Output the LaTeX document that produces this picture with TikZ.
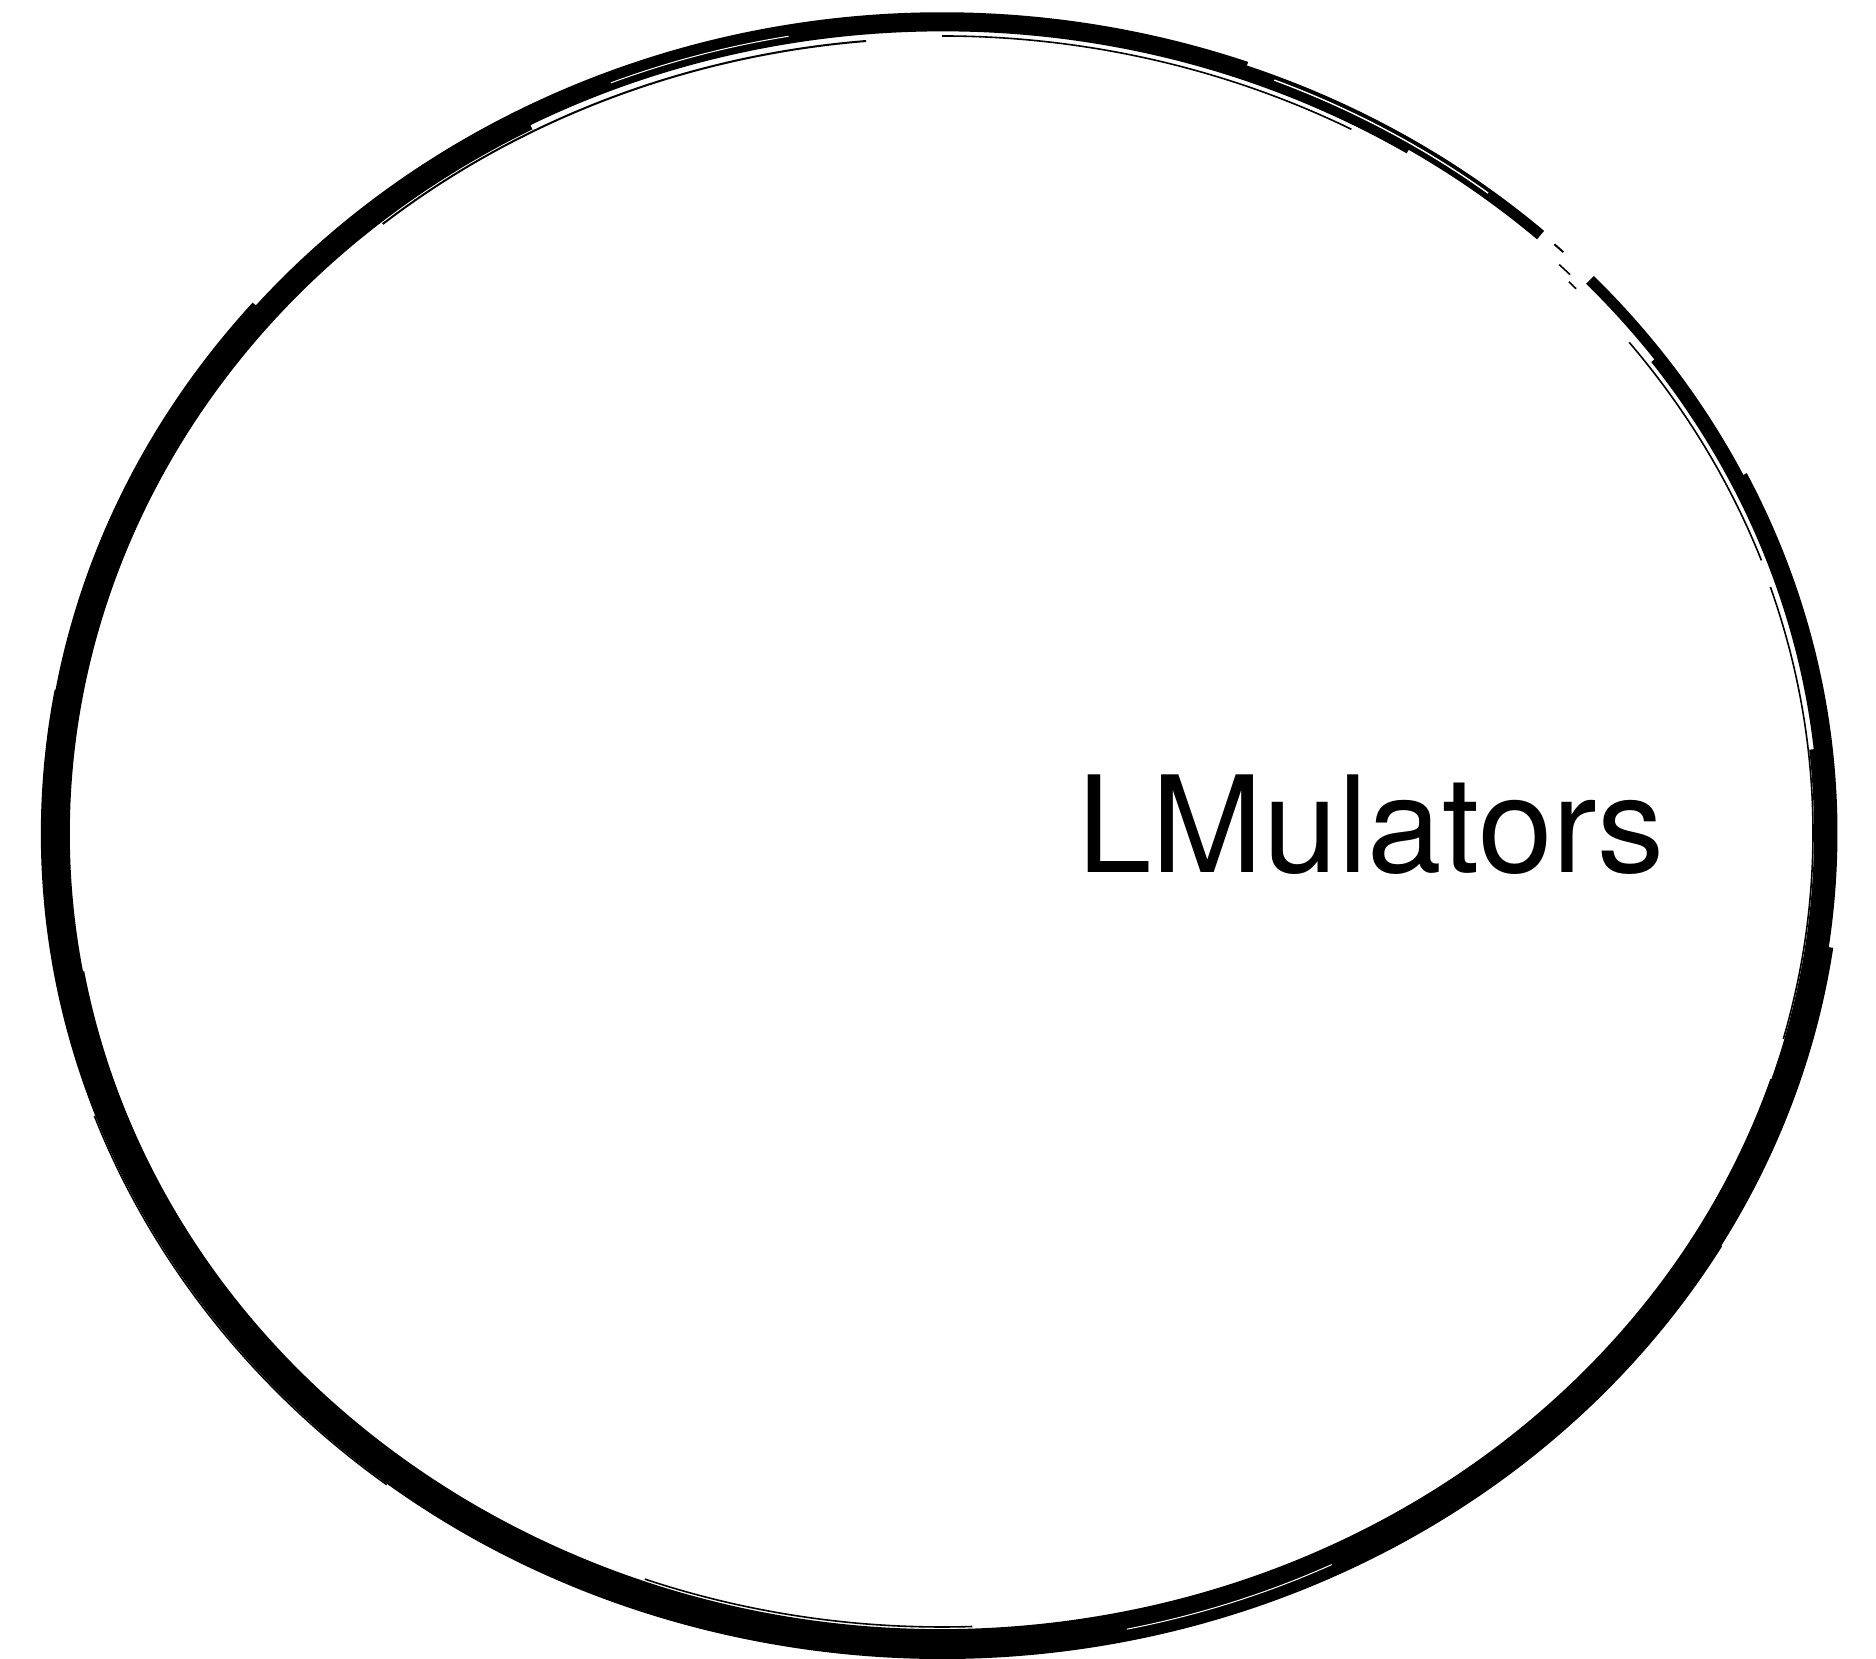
\documentclass[tikz,border=0pt]{standalone}
\usepackage{fontspec}
\setmainfont{TeX Gyre Heros}
\begin{document}
\begin{tikzpicture}[x=0.5pt,y=0.5pt,
  brush/.style={line width=#1, line cap=butt, black},
  streak/.style={line width=#1, line cap=butt, white},
  label/.style={font=\fontsize{67}{80}\selectfont, inner sep=0pt, anchor=base west}]
\useasboundingbox (0,0) rectangle (1876,1659);
\fill[white] (0,0) rectangle (1876,1659);
% sketchy ellipse made of several brush strokes: \brushArc{dr}{from}{to}{style}
\newcommand\brushArc[4]{%
  \draw[#4] ({#2}:{886+#1} and {811+#1}) arc[start angle=#2, end angle=#3, x radius={886+#1}, y radius={811+#1}];}
\begin{scope}[shift={(942,826)}]
  \brushArc{0}{47.5}{403}{brush=5.5pt}
  \brushArc{-5}{58}{396}{brush=4.5pt}
  \brushArc{5}{70}{386}{brush=4.5pt}
  \brushArc{-10}{118}{366}{brush=4pt}
  \brushArc{10}{140}{352}{brush=4pt}
  \brushArc{13}{170}{330}{brush=2pt}
  \brushArc{-13}{190}{342}{brush=2pt}
  % loose hairlines along the edges
  \brushArc{-16}{95}{130}{brush=1pt}
  \brushArc{-14}{62}{90}{brush=0.8pt}
  \brushArc{-15}{345}{378}{brush=0.8pt}
  \brushArc{16}{200}{232}{brush=0.8pt}
  \brushArc{-17}{250}{272}{brush=0.8pt}
  \brushArc{-14}{20}{38}{brush=0.8pt}
  % thin white streaks inside the band
  \brushArc{1}{52}{68}{streak=0.7pt}
  \brushArc{-2}{100}{112}{streak=0.5pt}
  \brushArc{3}{282}{296}{streak=0.5pt}
  % small dashes across the gap
  \brushArc{2}{45.6}{46.4}{brush=1pt}
  \brushArc{-10}{44.2}{45.2}{brush=0.8pt}
  \brushArc{-16}{43.2}{43.9}{brush=0.8pt}
\end{scope}
\node[label] (title) at (1077,786) {LMulators};
\end{tikzpicture}
\end{document}
